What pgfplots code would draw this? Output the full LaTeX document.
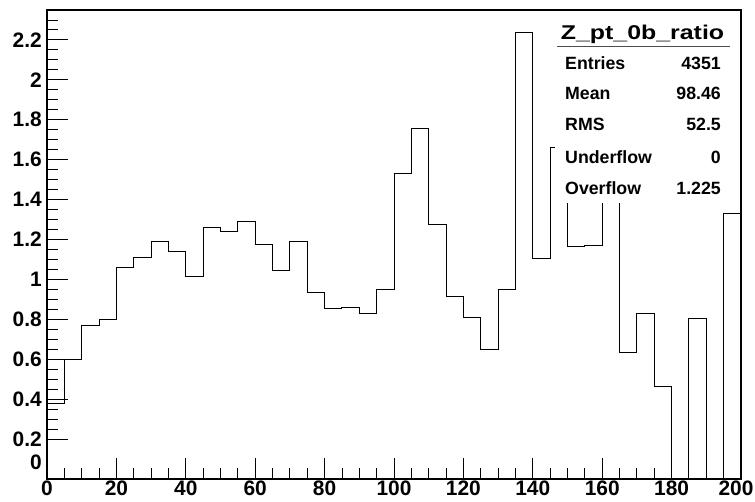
\documentclass[border=0pt]{standalone}
\usepackage{pgfplots}
\pgfplotsset{compat=1.18}
\usepackage{graphicx}
\usepackage{fontspec}
\setmainfont{Liberation Sans}
\pgfplotstableread{
x y
0 0.376
5 0.597
10 0.768
15 0.800
20 1.060
25 1.108
30 1.188
35 1.140
40 1.016
45 1.258
50 1.240
55 1.290
60 1.173
65 1.043
70 1.188
75 0.933
80 0.855
85 0.860
90 0.831
95 0.948
100 1.530
105 1.757
110 1.273
115 0.913
120 0.810
125 0.650
130 0.950
135 2.238
140 1.105
145 1.663
150 1.163
155 1.171
160 1.600
165 0.633
170 0.830
175 0.463
180 0
185 0.805
190 0
195 1.330
200 1.330
}\histdata
\begin{document}
\begin{tikzpicture}[x=1bp,y=1bp]
\useasboundingbox (-47,-23) rectangle (708,479);
\begin{axis}[
  at={(0,0)}, anchor=south west,
  scale only axis, width=694bp, height=469bp,
  xmin=0, xmax=200, ymin=0, ymax=2.35,
  xtick={0,20,...,180},
  ytick={0.2,0.4,0.6,0.8,1,1.2,1.4,1.6,1.8,2,2.2,2.4},
  minor x tick num=3, minor y tick num=3,
  tick align=inside, xtick pos=left, ytick pos=left,
  major tick length=21bp, minor tick length=10.5bp,
  every tick/.style={black, line width=0.9bp},
  axis line style={line width=1.6bp},
  /pgf/number format/assume math mode=true,
  ticklabel style={font=\fontsize{21}{21}\selectfont\bfseries, inner sep=0pt},
  xticklabel style={yshift=-2bp},
  yticklabel style={xshift=-5bp},
  extra y ticks={0},
  extra y tick style={yticklabel style={yshift=17bp}},
  extra x ticks={200},
  extra x tick style={xticklabel style={xshift=-5bp}},
]
\addplot[const plot, black, line width=1bp, mark=none] table[x=x,y=y] {\histdata};
\end{axis}
\fill[white] (508,276) rectangle (693.2,468.2);
\node[anchor=base, font=\fontsize{20}{20}\selectfont\bfseries, inner sep=0pt] at (595.5,439.7) {\scalebox{1.25}[1]{Z\_pt\_0b\_ratio}};
\draw[black!70, line width=0.9bp] (510,433) -- (683,433);
\begin{scope}[every node/.style={font=\fontsize{17.8}{17.8}\selectfont\bfseries, inner sep=0pt}]
\node[anchor=base west] at (518,409) {Entries};
\node[anchor=base east] at (674,409) {4351};
\node[anchor=base west] at (518,379) {Mean};
\node[anchor=base east] at (674,379) {98.46};
\node[anchor=base west] at (518,348) {RMS};
\node[anchor=base east] at (674,348) {52.5};
\node[anchor=base west] at (518,315.7) {Underflow};
\node[anchor=base east] at (674,315.7) {0};
\node[anchor=base west] at (518,284.7) {Overflow};
\node[anchor=base east] at (674,284.7) {1.225};
\end{scope}
\end{tikzpicture}
\end{document}
